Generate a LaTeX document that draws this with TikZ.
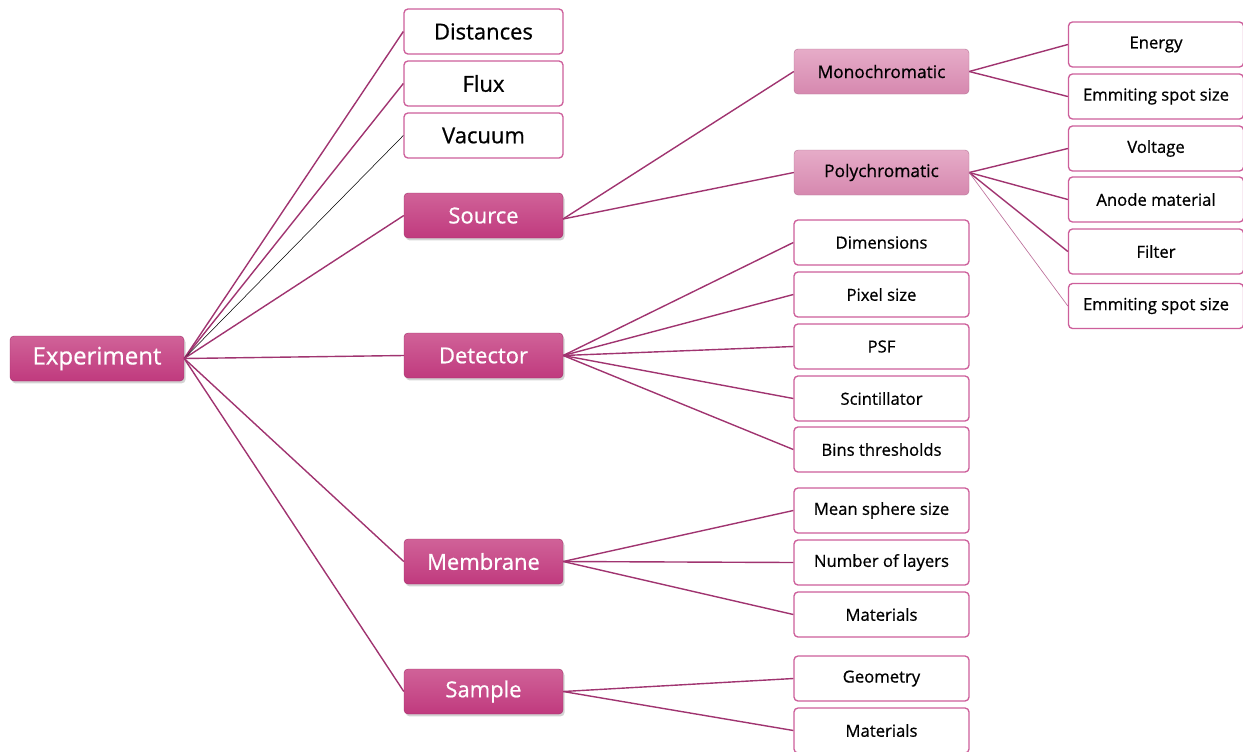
\documentclass[tikz,border=0pt]{standalone}
\usepackage{fontspec}
\setmainfont[Ligatures=NoCommon, FakeBold=0.7]{Open Sans}
\usetikzlibrary{shadows}
\definecolor{mag}{RGB}{192,58,126}
\definecolor{magtop}{RGB}{208,98,152}
\definecolor{pinktop}{RGB}{230,172,200}
\definecolor{pinkbot}{RGB}{214,136,175}
\definecolor{boxline}{RGB}{205,95,155}
\definecolor{conn}{RGB}{160,52,112}
\begin{document}
\begin{tikzpicture}[x=0.75pt,y=-0.75pt,
  mainbox/.style={rectangle, rounded corners=3pt, top color=magtop, bottom color=mag,
    draw=mag!85!black, line width=0.3pt, text=white, minimum height=33.75pt, inner sep=0pt,
    drop shadow={shadow xshift=1.2pt, shadow yshift=-1.8pt, opacity=0.35}},
  subbox/.style={rectangle, rounded corners=3pt, top color=pinktop, bottom color=pinkbot,
    draw=pinkbot!85!black, line width=0.3pt, text=black, minimum width=131.25pt,
    minimum height=33.75pt, inner sep=0pt, font=\fontsize{13}{15}\selectfont},
  leafbig/.style={rectangle, rounded corners=3pt, draw=boxline, line width=1pt, fill=white,
    minimum width=119.25pt, minimum height=33.75pt, inner sep=0pt, font=\fontsize{16.5}{18}\selectfont},
  leaf/.style={rectangle, rounded corners=3pt, draw=boxline, line width=1pt, fill=white,
    minimum width=131.25pt, minimum height=33.75pt, inner sep=0pt, font=\fontsize{12.5}{14}\selectfont},
  conn/.style={draw=conn, line width=1.05pt},
]
\useasboundingbox (0,0) rectangle (1243,751);

\coordinate (srcE) at (563,219);

% Level 0
\node[mainbox, minimum width=130.5pt, font=\fontsize{18}{20}\selectfont] (exp) at (97,358.5) {Experiment};

% Level 1
\node[leafbig] (dist) at (483.5,31.5) {Distances};
\node[leafbig] (flux) at (483.5,83.5) {Flux};
\node[leafbig] (vac) at (483.5,135.5) {Vacuum};
\node[mainbox, minimum width=119.25pt, font=\fontsize{16.5}{18}\selectfont] (src) at (483.5,215.5) {Source};
\node[mainbox, minimum width=119.25pt, font=\fontsize{16.5}{18}\selectfont] (det) at (483.5,355.5) {Detector};
\node[mainbox, minimum width=119.25pt, font=\fontsize{16.5}{18}\selectfont] (mem) at (483.5,561.5) {Membrane};
\node[mainbox, minimum width=119.25pt, font=\fontsize{16.5}{18}\selectfont] (sam) at (483.5,691.5) {Sample};

% Level 2
\node[subbox] (mono) at (881.5,71.5) {Monochromatic};
\node[subbox] (poly) at (881.5,172.5) {Polychromatic};
\node[leaf] (dim) at (881.5,242.5) {Dimensions};
\node[leaf] (pix) at (881.5,294.5) {Pixel size};
\node[leaf] (psf) at (881.5,346.5) {PSF};
\node[leaf] (sci) at (881.5,398.5) {Scintillator};
\node[leaf] (bins) at (881.5,449.5) {Bins thresholds};
\node[leaf] (msph) at (881.5,510.5) {Mean sphere size};
\node[leaf] (nlay) at (881.5,562.5) {Number of layers};
\node[leaf] (mmat) at (881.5,614.5) {Materials};
\node[leaf] (geo) at (881.5,678.5) {Geometry};
\node[leaf] (smat) at (881.5,730.5) {Materials};

% Level 3
\node[leaf] (ener) at (1156,44.5) {Energy};
\node[leaf] (spot1) at (1156,96.5) {Emmiting spot size};
\node[leaf] (volt) at (1156,148.5) {Voltage};
\node[leaf] (anode) at (1156,199.5) {Anode material};
\node[leaf] (filt) at (1156,251.5) {Filter};
\node[leaf] (spot2) at (1156,306) {Emmiting spot size};

% edges
\draw[conn] (exp.east) -- (dist.west);
\draw[conn] (exp.east) -- (flux.west);
\draw[black, line width=0.4pt] (exp.east) -- (vac.west);
\draw[conn] (exp.east) -- (src.west);
\draw[conn] (exp.east) -- (det.west);
\draw[conn] (exp.east) -- (mem.west);
\draw[conn] (exp.east) -- (sam.west);

\draw[conn] (srcE) -- (mono.west);
\draw[conn] (srcE) -- (poly.west);

\foreach \t in {dim,pix,psf,sci,bins} \draw[conn] (det.east) -- (\t.west);
\foreach \t in {msph,nlay,mmat} \draw[conn] (mem.east) -- (\t.west);
\foreach \t in {geo,smat} \draw[conn] (sam.east) -- (\t.west);

\draw[conn] (mono.east) -- (ener.west);
\draw[conn] (mono.east) -- (spot1.west);
\draw[conn] (poly.east) -- (volt.west);
\draw[conn] (poly.east) -- (anode.west);
\draw[conn] (poly.east) -- (filt.west);
\draw[draw=conn!70!white, line width=0.5pt] (poly.east) -- (spot2.west);
\end{tikzpicture}
\end{document}
